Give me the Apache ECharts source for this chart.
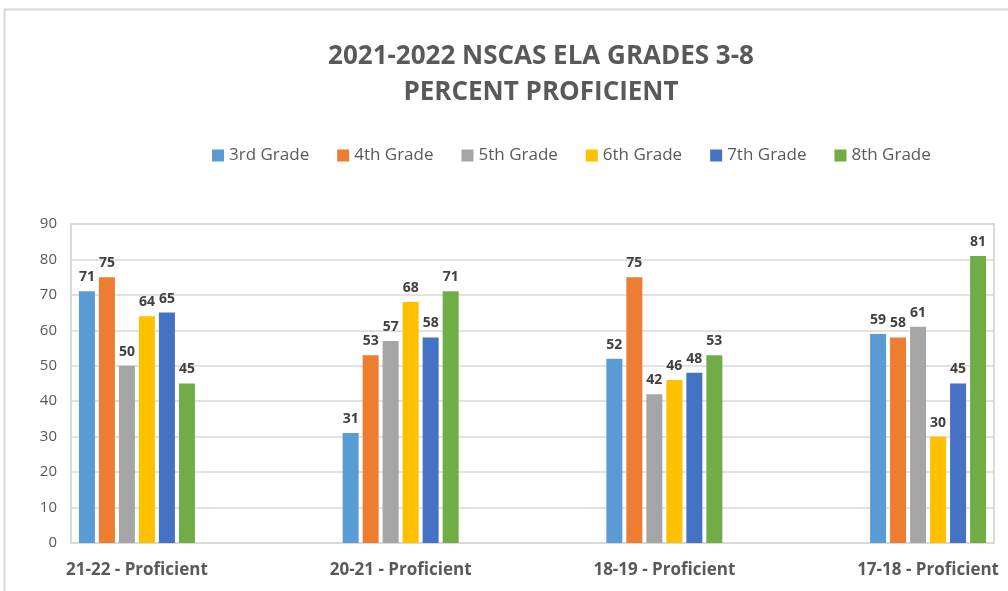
<!DOCTYPE html>
<html>
<head>
<meta charset="utf-8">
<title>2021-2022 NSCAS ELA Grades 3-8</title>
<script src="https://cdn.jsdelivr.net/npm/echarts@6/dist/echarts.min.js"></script>
<style>
  html, body { margin: 0; padding: 0; background: #fff; }
  #chart { width: 1008px; height: 591px; }
</style>
</head>
<body>
<div id="chart"></div>
<script>
const categories = ['21-22 - Proficient', '20-21 - Proficient', '18-19 - Proficient', '17-18 - Proficient']
const gradeNames = ['3rd Grade', '4th Grade', '5th Grade', '6th Grade', '7th Grade', '8th Grade']
const grade3 = [71, 31, 52, 59]
const grade4 = [75, 53, 75, 58]
const grade5 = [50, 57, 42, 61]
const grade6 = [64, 68, 46, 30]
const grade7 = [65, 58, 48, 45]
const grade8 = [45, 71, 53, 81]
const yTicks = { min: 0, max: 90, step: 10 }

const colors = ['#5b9bd5', '#ed7d31', '#a5a5a5', '#ffc000', '#4472c4', '#70ad47']
const font = "'Open Sans', 'Noto Sans', sans-serif"

// the original sheet leaves an empty column between each year, so spread the categories out
function spread(arr, filler) {
  const out = []
  arr.forEach((v, i) => {
    if (i > 0) out.push(filler)
    out.push(v)
  })
  return out
}

const gradeValues = [grade3, grade4, grade5, grade6, grade7, grade8]

const chart = echarts.init(document.getElementById('chart'), null, { renderer: 'canvas' })

chart.setOption({
  animation: false,
  color: colors,
  graphic: [{
    type: 'rect',
    shape: { x: 4.5, y: 9.5, width: 1200, height: 800 },
    style: { fill: 'none', stroke: '#d9d9d9', lineWidth: 2 },
    silent: true,
  }],
  title: {
    text: '2021-2022 NSCAS ELA GRADES 3-8\nPERCENT PROFICIENT',
    left: 536,
    top: 34,
    textAlign: 'center',
    textStyle: {
      fontFamily: font,
      fontWeight: 'bold',
      fontSize: 26,
      lineHeight: 36,
      color: '#595959',
    },
  },
  legend: {
    data: gradeNames,
    left: 207,
    top: 142,
    icon: 'rect',
    itemWidth: 12,
    itemHeight: 12,
    itemGap: 28,
    textStyle: { fontFamily: font, fontSize: 17, color: '#595959' },
  },
  grid: {
    left: 71, right: 14, top: 224, bottom: 48,
    containLabel: false,
    show: true,
    borderColor: '#d9d9d9',
    borderWidth: 2,
  },
  xAxis: {
    type: 'category',
    data: spread(categories, ''),
    axisTick: { show: false },
    axisLine: { lineStyle: { color: '#d9d9d9', width: 2 } },
    axisLabel: {
      interval: 0,
      margin: 19,
      fontFamily: font,
      fontWeight: 'bold',
      fontSize: 17,
      color: '#595959',
    },
  },
  yAxis: {
    type: 'value',
    min: yTicks.min,
    max: yTicks.max,
    interval: yTicks.step,
    axisLine: { show: false },
    axisTick: { show: false },
    axisLabel: { margin: 14, fontFamily: font, fontSize: 15, color: '#595959' },
    splitLine: { lineStyle: { color: '#d9d9d9', width: 1.5 } },
  },
  series: gradeNames.map((name, i) => ({
    name,
    type: 'bar',
    data: spread(gradeValues[i], '-'),
    barWidth: 16,
    barGap: '25%',
    itemStyle: { color: colors[i] },
    label: {
      show: true,
      position: 'top',
      distance: 7,
      fontFamily: font,
      fontWeight: 'bold',
      fontSize: 14,
      color: '#404040',
    },
  })),
})
</script>
</body>
</html>
